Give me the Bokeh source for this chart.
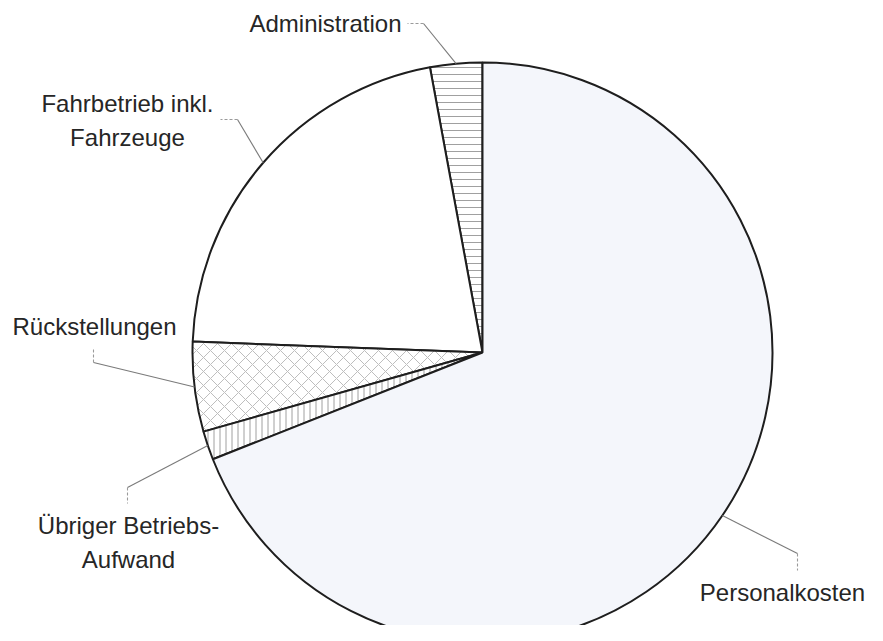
import numpy as np
from bokeh.plotting import figure
from bokeh.models import Range1d, ColumnDataSource
from bokeh.core.properties import value
from bokeh.embed import file_html
from bokeh.resources import INLINE

# ---- data (percent shares, counter-clockwise from 12 o'clock) ----
categories = ["Administration", "Fahrbetrieb inkl. Fahrzeuge", "Rückstellungen",
              "Übriger Betriebs-Aufwand", "Personalkosten"]
shares = [2.9, 21.5, 5.0, 1.6, 69.0]
labels = ["Administration", "Fahrbetrieb inkl.\nFahrzeuge", "Rückstellungen",
          "Übriger Betriebs-\nAufwand", "Personalkosten"]

# ---- styles / layout ----
fills = ["white", "white", "white", "white", "#f4f6fb"]
hatches = ["horizontal_line", "blank", "diagonal_cross", "vertical_line", "blank"]
hatch_scales = [7, 7, 14, 6, 7]
hatch_colors = ["#a0a0a0", "#a0a0a0", "#bdbdbd", "#a0a0a0", "#a0a0a0"]

W, H = 867, 625
REF_H = 641
cx, cy_ref, R = 482, 352, 290

def Y(yref):
    return REF_H - yref

# label anchor positions (reference pixel coordinates) and leader elbows
label_pos = [(325, 23), (127, 120), (94, 326), (128, 542), (782, 592)]
elbows = [(423, 23), (237, 119), (93, 362), (127, 487), (797, 553)]
dash_end = [(407, 23), (220, 119), (93, 347), (127, 503), (797, 570)]

p = figure(width=W, height=H, output_backend="svg", toolbar_location=None,
           x_range=Range1d(0, W), y_range=Range1d(Y(H), Y(0)),
           min_border=0, outline_line_color=None, background_fill_color="white",
           border_fill_color="white")
p.axis.visible = False
p.grid.visible = False

frac = np.array(shares) / np.sum(shares)
cum = np.concatenate([[0], np.cumsum(frac)])
start = np.pi / 2 + cum[:-1] * 2 * np.pi
end = np.pi / 2 + cum[1:] * 2 * np.pi
mid = (start + end) / 2

src = ColumnDataSource(dict(cat=categories, start=start, end=end, fill=fills,
                            hatch=hatches, hs=hatch_scales, hc=hatch_colors))
p.wedge(x=cx, y=Y(cy_ref), radius=R, start_angle="start", end_angle="end",
        direction="anticlock", source=src, fill_color="fill",
        line_color="#1e1e1e", line_width=2,
        hatch_pattern="hatch", hatch_scale="hs", hatch_color="hc",
        hatch_weight=1)

# leader lines: from slice mid-point on rim to elbow, then dashed tail
xs_solid, ys_solid, xs_dash, ys_dash = [], [], [], []
for a, e, d in zip(mid, elbows, dash_end):
    x0 = cx + R * np.cos(a)
    y0 = Y(cy_ref) + R * np.sin(a)
    xs_solid.append([x0, e[0]])
    ys_solid.append([y0, Y(e[1])])
    xs_dash.append([e[0], d[0]])
    ys_dash.append([Y(e[1]), Y(d[1])])
p.multi_line(xs_solid, ys_solid, line_color="#7a7a7a", line_width=1.1)
p.multi_line(xs_dash, ys_dash, line_color="#9a9a9a", line_width=1.1,
             line_dash="3 2")

p.text(x=[q[0] for q in label_pos], y=[Y(q[1]) for q in label_pos], text=labels,
       text_font=value("Liberation Sans"), text_font_size="24px",
       text_color="#262626", text_align="center", text_baseline="middle",
       text_line_height=1.25)

open("out.html", "w").write(file_html(p, INLINE))
